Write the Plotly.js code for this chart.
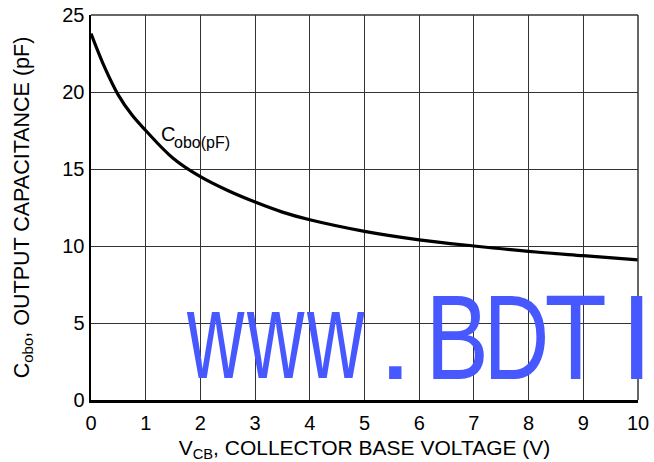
<!DOCTYPE html>
<html>
<head>
<meta charset="utf-8">
<script src="https://cdn.plot.ly/plotly-3.0.1.min.js"></script>
<style>html,body{margin:0;padding:0;background:#fff;}#chart{width:654px;height:462px;}</style>
</head>
<body>
<div id="chart"></div>
<script>
// Data
const vcb = [0, 0.25, 0.5, 0.75, 1, 1.5, 2, 2.5, 3, 3.5, 4, 5, 6, 7, 8, 9, 10];
const cobo = [23.8, 21.6, 19.8, 18.5, 17.5, 15.7, 14.5, 13.6, 12.85, 12.2, 11.7, 10.95, 10.4, 10.0, 9.65, 9.37, 9.1];
const xTicks = [0, 1, 2, 3, 4, 5, 6, 7, 8, 9, 10];
const yTicks = [0, 5, 10, 15, 20, 25];
const labelMain = 'C';
const labelSub = 'obo(pF)';
const xTitle = 'V<sub>CB</sub>, COLLECTOR BASE VOLTAGE (V)';
const yTitle = 'C<sub>obo</sub>, OUTPUT CAPACITANCE (pF)';
const watermarkChars = ['w', 'w', 'w', '.', 'B', 'D', 'T', 'I'];

// watermark styling (pixel centres, font sizes, horizontal squeeze)
const wmCenters = [215, 275, 335, 395, 457, 516, 575, 636];
const wmSizes = [124, 124, 124, 118, 120, 120, 120, 120];
const wmScale = [0.64, 0.64, 0.64, 1.1, 0.79, 0.76, 0.85, 1.0];

const FONT = 'Liberation Sans, Arial, Helvetica, sans-serif';
const W = 654, H = 462;
const PL = 91, PR = 638, PT = 15, PB = 400;
const px2x = p => (p - PL) / (PR - PL);
const px2y = p => (PB - p) / (PB - PT);

const trace = {
  x: vcb, y: cobo, type: 'scatter', mode: 'lines',
  line: {color: '#000', width: 3.2, shape: 'spline', smoothing: 1.0},
  hoverinfo: 'skip', showlegend: false
};

const annotations = [
  {x: px2x(159), y: px2y(142), xref: 'paper', yref: 'paper', xanchor: 'left', yanchor: 'bottom', yshift: -5,
   text: labelMain, showarrow: false, font: {family: FONT, size: 20, color: '#000'}},
  {x: px2x(172), y: px2y(149), xref: 'paper', yref: 'paper', xanchor: 'left', yanchor: 'bottom', yshift: -4,
   text: labelSub, showarrow: false, font: {family: FONT, size: 16, color: '#000'}}
];
watermarkChars.forEach((c, i) => {
  annotations.push({
    x: px2x(wmCenters[i]), y: px2y(380), xref: 'paper', yref: 'paper',
    xanchor: 'center', yanchor: 'bottom', yshift: -26,
    text: c, showarrow: false,
    font: {family: FONT, size: wmSizes[i], color: '#4758FF'}
  });
});

const layout = {
  width: W, height: H,
  margin: {l: PL, r: W - PR, t: PT, b: H - PB},
  paper_bgcolor: '#fff', plot_bgcolor: '#fff',
  font: {family: FONT, color: '#000', size: 20},
  xaxis: {
    range: [0, 10], tickvals: xTicks, ticktext: xTicks.map(String),
    showgrid: true, gridcolor: '#333', gridwidth: 1,
    showline: true, linecolor: '#000', linewidth: 2.5,
    ticks: '', ticklabelstandoff: 3, zeroline: false,
    tickfont: {family: FONT, size: 20},
    title: {text: xTitle, font: {family: FONT, size: 21}, standoff: 8}
  },
  yaxis: {
    range: [0, 25], tickvals: yTicks, ticktext: yTicks.map(String),
    showgrid: true, gridcolor: '#333', gridwidth: 1,
    showline: true, linecolor: '#000', linewidth: 2.5,
    ticks: '', zeroline: false,
    tickfont: {family: FONT, size: 20},
    title: {text: yTitle, font: {family: FONT, size: 21.5}, standoff: 27}
  },
  shapes: [
    {type: 'line', xref: 'paper', yref: 'paper', x0: 0, x1: 1, y0: 1, y1: 1, line: {color: '#333', width: 1.5}},
    {type: 'line', xref: 'paper', yref: 'paper', x0: 1, x1: 1, y0: 0, y1: 1, line: {color: '#333', width: 1.5}}
  ],
  annotations: annotations
};

Plotly.newPlot('chart', [trace], layout, {staticPlot: true, displayModeBar: false}).then(gd => {
  const groups = gd.querySelectorAll('.annotation');
  groups.forEach((g, idx) => {
    const wi = idx - 2;
    if (wi < 0 || wi >= wmScale.length) return;
    const t = g.querySelector('text.annotation-text');
    if (!t) return;
    t.style.transformBox = 'fill-box';
    t.style.transformOrigin = '50% 50%';
    t.style.transform = 'scaleX(' + wmScale[wi] + ')';
  });
});
</script>
</body>
</html>
